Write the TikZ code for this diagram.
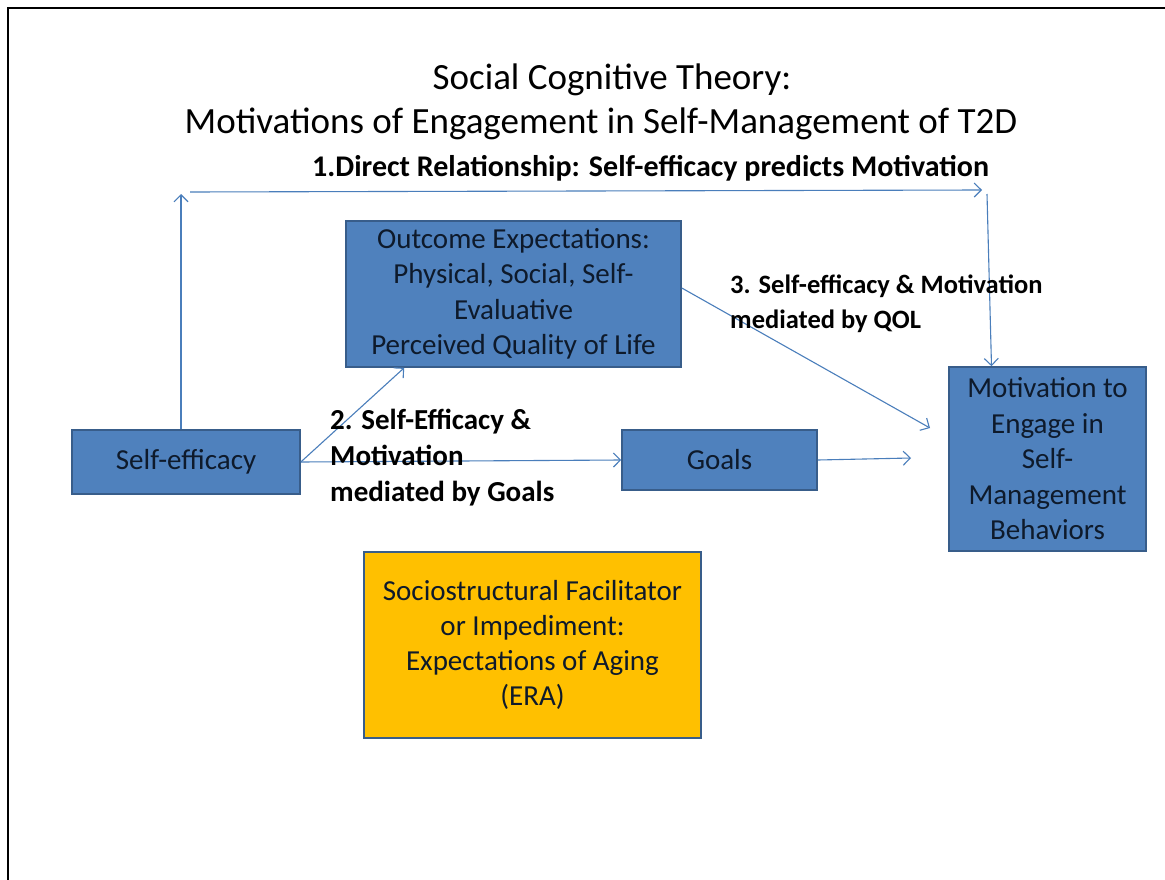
\documentclass[tikz,border=0pt]{standalone}
\usepackage{fontspec}
\setmainfont{Carlito}
\usetikzlibrary{arrows.meta,calc}
\definecolor{boxblue}{HTML}{4F81BD}
\definecolor{boxedge}{HTML}{385D8A}
\definecolor{boxgold}{HTML}{FFC000}
\definecolor{linkblue}{HTML}{4A7EBB}
\definecolor{boxtext}{HTML}{0E1A2B}
\tikzset{
  bluebox/.style={draw=boxedge, fill=boxblue, line width=1.6pt, text=boxtext,
    align=center, font=\fontsize{29}{35.5}\selectfont, inner sep=0pt},
  goldbox/.style={draw=boxedge, fill=boxgold, line width=1.6pt, text=boxtext,
    align=center, font=\fontsize{29}{35}\selectfont, inner sep=0pt},
  link/.style={draw=linkblue, line width=1.1pt,
    -{Straight Barb[length=7pt,width=14pt,line width=1.1pt]}},
  pathlabel/.style={font=\bfseries, align=left, inner sep=0pt, text=black},
  titletext/.style={font=\fontsize{37}{44}\selectfont, inner sep=0pt}
}
\begin{document}
\begin{tikzpicture}[x=1pt,y=-1pt]
  \useasboundingbox (0,0) rectangle (1165,880);
  \fill[white] (0,0) rectangle (1165,880);
  % slide frame
  \draw[line width=2.6pt] (8,880) -- (8,8) -- (1165,8);

  % title
  \node[titletext, anchor=base] (title1) at (612,90) {Social Cognitive Theory:};
  \node[titletext, anchor=base] (title2) at (601,134)
    {Motivations of Engagement in Self-Management of T2D};

  % boxes
  \node[bluebox, minimum width=228, minimum height=64] (se) at (186,462) {Self-efficacy};
  \node[bluebox, minimum width=335, minimum height=146] (oe) at (513.5,294)
    {Outcome Expectations:\\Physical, Social, Self-\\Evaluative\\Perceived Quality of Life};
  \node[bluebox, minimum width=195, minimum height=60] (goals) at (719.5,460) {Goals};
  \node[bluebox, minimum width=197, minimum height=184] (mot) at (1047.5,459)
    {Motivation to\\Engage in\\Self-\\Management\\Behaviors};
  \node[goldbox, minimum width=337, minimum height=186] (soc) at (532.5,645)
    {Sociostructural Facilitator\\or Impediment:\\Expectations of Aging\\(ERA)};

  % free ends of the connectors
  \coordinate (uptip) at (181,194);
  \coordinate (hstart) at (190,192);
  \coordinate (hend) at (982,190);
  \coordinate (vstart) at (987,194);
  \coordinate (goalsend) at (911,458);
  \coordinate (qolend) at (930,428);

  % 1. direct relationship
  \draw[link] (uptip |- se.north) -- (uptip);
  \draw[link] (hstart) -- (hend);
  \draw[link] (vstart) -- ($(mot.north)+(-56,0)$);
  % 2. mediated by goals
  \draw[link] (se.east) -- ($(oe.south west)+(59,0)$);
  \draw[link] (se.east) -- (goals.west);
  \draw[link] (goals.east) -- (goalsend);
  % 3. mediated by QOL
  \draw[link] ($(oe.east)+(0,-6)$) -- (qolend);

  % path labels
  \node[pathlabel, font=\bfseries\fontsize{30}{36}\selectfont, anchor=base west] (l1)
    at (312,176) {1.Direct Relationship: Self-efficacy predicts Motivation};
  \node[pathlabel, font=\bfseries\fontsize{29}{36}\selectfont, anchor=north west] (l2)
    at (330,409) {2. Self-Efficacy \&\\Motivation\\mediated by Goals};
  \node[pathlabel, font=\bfseries\fontsize{26.5}{35}\selectfont, anchor=north west] (l3)
    at (730,275) {3. Self-efficacy \& Motivation\\mediated by QOL};
\end{tikzpicture}
\end{document}
